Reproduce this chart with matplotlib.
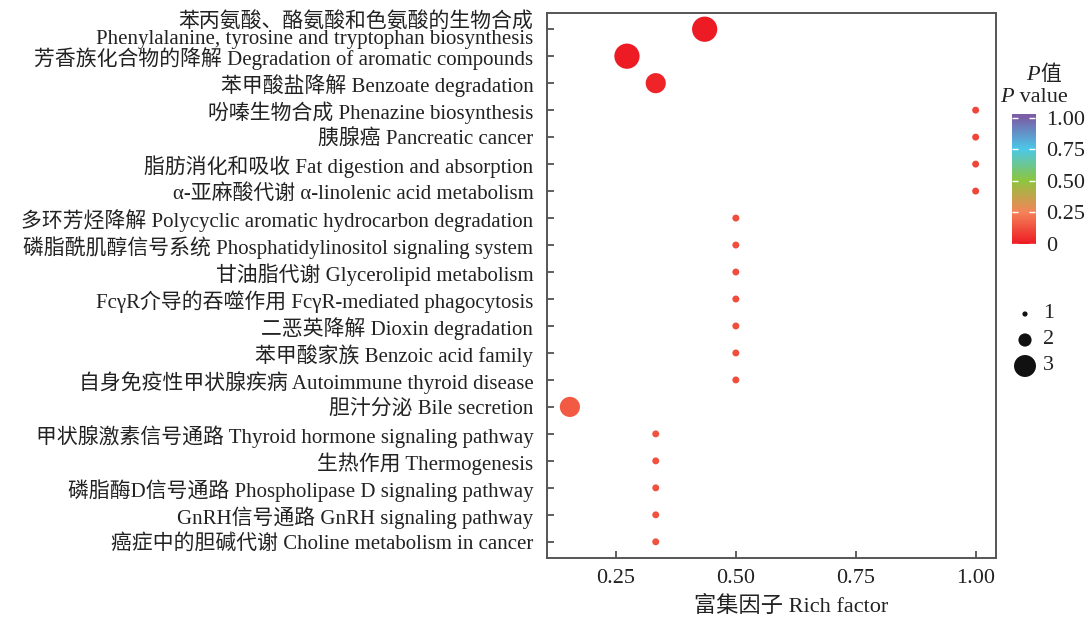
import numpy as np
import matplotlib
matplotlib.use("Agg")
import matplotlib.pyplot as plt
from matplotlib.colors import LinearSegmentedColormap, Normalize

plt.rcParams['font.family'] = ['Liberation Serif', 'Noto Sans CJK SC']

# pathway names, top to bottom
pathways = [
    "苯丙氨酸、酪氨酸和色氨酸的生物合成\nPhenylalanine, tyrosine and tryptophan biosynthesis",
    "芳香族化合物的降解 Degradation of aromatic compounds",
    "苯甲酸盐降解 Benzoate degradation",
    "吩嗪生物合成 Phenazine biosynthesis",
    "胰腺癌 Pancreatic cancer",
    "脂肪消化和吸收 Fat digestion and absorption",
    "α-亚麻酸代谢 α-linolenic acid metabolism",
    "多环芳烃降解 Polycyclic aromatic hydrocarbon degradation",
    "磷脂酰肌醇信号系统 Phosphatidylinositol signaling system",
    "甘油脂代谢 Glycerolipid metabolism",
    "FcγR介导的吞噬作用 FcγR-mediated phagocytosis",
    "二恶英降解 Dioxin degradation",
    "苯甲酸家族 Benzoic acid family",
    "自身免疫性甲状腺疾病 Autoimmune thyroid disease",
    "胆汁分泌 Bile secretion",
    "甲状腺激素信号通路 Thyroid hormone signaling pathway",
    "生热作用 Thermogenesis",
    "磷脂酶D信号通路 Phospholipase D signaling pathway",
    "GnRH信号通路 GnRH signaling pathway",
    "癌症中的胆碱代谢 Choline metabolism in cancer",
]
rich_factor = [0.435, 0.273, 0.333, 1.0, 1.0, 1.0, 1.0,
               0.5, 0.5, 0.5, 0.5, 0.5, 0.5, 0.5,
               0.154, 0.333, 0.333, 0.333, 0.333, 0.333]
gene_count = [3, 3, 2, 1, 1, 1, 1, 1, 1, 1, 1, 1, 1, 1, 2, 1, 1, 1, 1, 1]
p_value = [0.0, 0.0, 0.02, 0.1, 0.1, 0.1, 0.1,
           0.12, 0.12, 0.12, 0.12, 0.12, 0.12, 0.12,
           0.15, 0.13, 0.13, 0.13, 0.13, 0.13]

cbar_ticks = [0, 0.25, 0.5, 0.75, 1.0]
cbar_labels = ["0", "0.25", "0.50", "0.75", "1.00"]
legend_counts = [1, 2, 3]

cmap = LinearSegmentedColormap.from_list(
    "pval", ["#ED1C24", "#F5845A", "#8DC63F", "#4BC8E8", "#7B5EA7"])
norm = Normalize(0, 1)
size_of = {1: 25, 2: 210, 3: 330}
legend_size = {1: 14, 2: 90, 3: 250}
txt = '#222222'

fig = plt.figure(figsize=(10.91, 6.2), dpi=100)
ax = fig.add_axes([0.5016, 0.1, 0.4110, 0.879])

y = np.arange(len(pathways))
ax.scatter(rich_factor, y, s=[size_of[c] for c in gene_count],
           c=p_value, cmap=cmap, norm=norm, edgecolors='none', zorder=3)

ax.set_xlim(0.1068, 1.0417)
ax.set_ylim(len(pathways) - 1 + 0.6, -0.6)
ax.set_yticks(y)
ax.set_yticklabels(pathways, fontsize=15, color=txt, linespacing=0.85)
ax.set_xticks([0.25, 0.5, 0.75, 1.0])
ax.set_xticklabels(["0.25", "0.50", "0.75", "1.00"], fontsize=16, color=txt)
ax.tick_params(direction='in', length=5, width=1.2, color='#444444', pad=10)
ax.tick_params(axis='x', pad=8)
for sp in ax.spines.values():
    sp.set_color('#555555')
    sp.set_linewidth(1.4)
ax.set_xlabel("富集因子 Rich factor", fontsize=16, color=txt)
ax.xaxis.set_label_coords(0.545, -0.07)

# colour bar drawn by hand
cax = fig.add_axes([0.9276, 0.6065, 0.0211, 0.2097])
grad = np.linspace(0, 1.03, 256).reshape(-1, 1)
cax.imshow(grad, aspect='auto', cmap=cmap, norm=norm, origin='lower',
           extent=[0, 1, 0, 1.03])
cax.set_xlim(0, 1)
cax.set_ylim(0, 1.03)
cax.set_xticks([])
cax.set_yticks(cbar_ticks)
cax.set_yticklabels(cbar_labels, fontsize=16, color=txt)
cax.tick_params(axis='y', direction='in', length=4, width=1, color='white',
                left=True, right=True, labelleft=False, labelright=True, pad=8)
for sp in cax.spines.values():
    sp.set_visible(False)

fig.text(1040 / 1091, 1 - 75 / 620, "P", fontsize=16, style='italic',
         ha='right', va='center', color=txt)
fig.text(1040 / 1091, 1 - 75 / 620, "值", fontsize=15, ha='left', va='center',
         color=txt)
fig.text(1014 / 1091, 1 - 98 / 620, "P", fontsize=16, style='italic',
         ha='right', va='center', color=txt)
fig.text(1014 / 1091, 1 - 98 / 620, " value", fontsize=16, ha='left',
         va='center', color=txt)

# size legend
lax = fig.add_axes([1005 / 1091, 1 - 380 / 620, 60 / 1091, 80 / 620])
lax.set_xlim(0, 60)
lax.set_ylim(80, 0)
lax.axis('off')
ly = [14, 40, 66]
lax.scatter([20] * 3, ly, s=[legend_size[c] for c in legend_counts],
            color='#111111', edgecolors='none')
for yy, c in zip(ly, legend_counts):
    lax.text(38, yy, str(c), fontsize=16, va='center', ha='left', color=txt)

fig.savefig("out.png", dpi=100)
